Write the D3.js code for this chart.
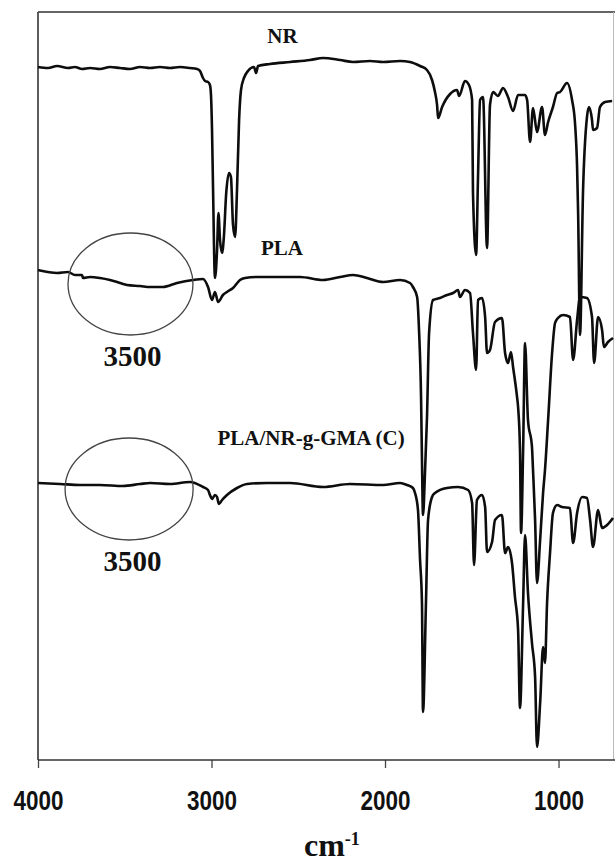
<!DOCTYPE html>
<html>
<head>
<meta charset="utf-8">
<script src="https://cdn.jsdelivr.net/npm/d3@7"></script>
<style>
  body { margin: 0; background: #fff; }
  .lbl { font-family: "Liberation Serif", "Times New Roman", serif; font-weight: bold; fill: #111; }
</style>
</head>
<body>
<svg id="chart" width="615" height="864"></svg>
<script>
// wavenumber (cm-1), transmittance (arbitrary, offset per trace)
var nrData = [
  [4000,138.6],[3942,138.4],[3890,138.8],[3827,138.4],[3787,138.6],[3746,138.2],[3700,138.4],
  [3643,138.2],[3585,138.6],[3527,138.4],[3470,138.2],[3412,138.6],[3354,138.4],[3297,138.6],
  [3239,138.4],[3182,138.6],[3124,138.4],[3083,138.2],[3066,137.8],[3049,136.4],[3037,135.8],
  [3020,135.6],[3009,135],[3003,133],[2997,126],[2991,114],[2980,96.4],[2968,102],[2960,109.4],
  [2951,104],[2939,101.4],[2928,105],[2916,113],[2899,117.4],[2888,116.6],[2876,107],[2864,104.6],
  [2853,114],[2841,128],[2830,134],[2813,136.4],[2790,137.8],[2755,138.6],[2743,137.4],[2732,138.8],
  [2663,139.2],[2547,139.6],[2432,140],[2357,140.4],[2259,140],[2184,139.6],[2086,139.8],[2011,139.6],
  [1913,139.8],[1856,139.6],[1798,138.8],[1758,138],[1729,136],[1712,133.6],[1700,131],[1694,128.4],
  [1671,130.6],[1625,133.2],[1585,134],[1573,132.8],[1539,135.8],[1516,135],[1498,132],[1493,113.4],
  [1475,101],[1464,116.6],[1452,132],[1435,132.6],[1412,102.4],[1395,131],[1377,133.6],[1349,132.8],
  [1320,134.4],[1291,132.6],[1262,129.8],[1233,133],[1193,133],[1181,132],[1164,123.6],[1147,130.4],
  [1124,125.6],[1095,130.6],[1078,125],[1060,127.6],[1032,130.6],[1008,133.4],[991,133.6],[951,135.4],
  [922,132],[905,127.4],[893,118.6],[887,109.4],[876,85],[859,113.4],[836,128.6],[824,130.6],
  [807,128],[801,126],[778,126.4],[761,130.6],[732,131.6],[691,131.8]
];

var plaData = [
  [4000,98],[3942,97.6],[3890,97.4],[3827,97.6],[3787,97],[3746,97],[3741,96.4],[3700,96.6],
  [3643,96.4],[3585,96],[3527,95.4],[3487,95],[3412,94.8],[3354,94.6],[3280,94.6],[3199,95.4],
  [3107,96],[3049,96.2],[3020,94.6],[2997,92],[2980,93.6],[2962,91.6],[2934,93],[2911,93.6],
  [2876,94.4],[2836,96],[2807,96.4],[2738,96.6],[2547,96.6],[2490,96.6],[2357,96],[2259,96.6],
  [2184,97],[2104,96.4],[2011,95.6],[1913,96],[1856,95.4],[1839,94.6],[1815,92.6],[1804,86],
  [1792,72],[1787,60],[1781,49],[1769,58],[1758,68.6],[1746,85.4],[1723,92],[1683,92.4],[1643,93],
  [1608,93.4],[1579,94],[1568,92.6],[1539,94],[1510,93.4],[1493,85.4],[1475,78],[1464,92],
  [1441,92.4],[1423,88.6],[1412,81.4],[1395,82],[1366,87.6],[1326,88.4],[1308,81.4],[1291,79.4],
  [1274,81.6],[1262,78.6],[1239,72.6],[1233,70.6],[1222,62],[1216,45.4],[1204,62],[1193,83.4],
  [1176,68],[1153,62.6],[1147,58],[1135,48],[1124,35.4],[1106,44],[1089,53.4],[1078,58],[1060,68],
  [1037,81.4],[1020,87.4],[1003,88.4],[974,89],[934,88.6],[916,80],[893,88],[876,92.6],[836,92.4],
  [807,88.6],[795,79.4],[772,88.6],[749,86],[738,82.6],[715,83.6],[686,84.4]
];

var blendData = [
  [4000,55.4],[3873,55.2],[3758,55],[3643,55],[3510,54.8],[3412,55.2],[3354,55.4],[3239,55.2],
  [3124,55.6],[3049,54.6],[3020,54],[3009,53],[2997,52.2],[2980,53],[2968,52.6],[2957,51.2],
  [2939,52],[2911,53],[2853,54.4],[2795,55.2],[2680,55.4],[2547,55.4],[2357,54.6],[2202,55.2],
  [2011,55],[1913,55.4],[1873,55],[1839,54.4],[1827,53.4],[1810,50],[1798,40],[1787,31.4],
  [1781,9.6],[1764,31.4],[1752,48],[1729,52.6],[1712,53.4],[1643,54.4],[1579,54.6],[1521,54],
  [1498,51.4],[1487,39],[1470,52],[1441,53],[1423,50.6],[1412,41.6],[1383,43.6],[1366,48],
  [1326,49],[1308,41.4],[1291,42.6],[1268,39.4],[1251,32.6],[1233,26],[1222,10.4],[1204,31.4],
  [1193,45],[1176,33.4],[1153,23.4],[1135,16.6],[1124,2.6],[1106,11.4],[1089,22.6],[1078,19.4],
  [1066,31.4],[1049,41.4],[1032,49.4],[1008,51],[980,50.6],[934,50.4],[916,43.4],[893,49.4],
  [864,52.6],[836,52.4],[818,48],[801,42.6],[772,50],[749,46.4],[720,47],[686,48.4]
];

var tickValues = [4000, 3000, 2000, 1000];

// trace names and where they sit (wavenumber, transmittance)
var traceLabels = [
  {text: "NR", wn: 2591, t: 143.4},
  {text: "PLA", wn: 2594, t: 101},
  {text: "PLA/NR-g-GMA (C)", wn: 2426, t: 63}
];

// circled 3500 cm-1 regions
var circles = [
  {wn: 3467, t: 95.2, rwn: 360, rt: 10.2, label: "3500", labelT: 78.8},
  {wn: 3475, t: 54.2, rwn: 369, rt: 10.2, label: "3500", labelT: 37.8}
];

var svg = d3.select("#chart");
var plotLeft = 38, plotRight = 613, plotTop = 12, plotBottom = 760;

var x = d3.scaleLinear().domain([4000, 686]).range([plotLeft, plotRight]);
var y = d3.scaleLinear().domain([0, 149.6]).range([plotBottom, plotTop]);

// frame
svg.append("line").attr("x1", plotLeft).attr("x2", 615).attr("y1", plotTop).attr("y2", plotTop)
  .attr("stroke", "#333").attr("stroke-width", 1.6);
svg.append("line").attr("x1", plotLeft).attr("x2", plotLeft).attr("y1", plotTop).attr("y2", plotBottom)
  .attr("stroke", "#333").attr("stroke-width", 1.6);
svg.append("line").attr("x1", plotRight + 0.5).attr("x2", plotRight + 0.5).attr("y1", plotTop).attr("y2", plotBottom)
  .attr("stroke", "#bbb").attr("stroke-width", 1);

// x axis
var xAxis = svg.append("g")
  .attr("transform", "translate(0," + plotBottom + ")")
  .call(d3.axisBottom(x).tickValues(tickValues).tickSize(8).tickFormat(d3.format("d")));
xAxis.select(".domain").remove();
svg.append("line").attr("x1", plotLeft).attr("x2", 615).attr("y1", plotBottom).attr("y2", plotBottom)
  .attr("stroke", "#333").attr("stroke-width", 1.6);
xAxis.selectAll(".tick line").attr("stroke", "#444").attr("stroke-width", 1.3);
xAxis.selectAll(".tick text")
  .attr("y", 50).attr("dy", 0)
  .attr("fill", "#111")
  .attr("textLength", 50).attr("lengthAdjust", "spacingAndGlyphs")
  .style("font-family", "'Liberation Sans', Arial, sans-serif")
  .style("font-weight", "bold")
  .style("font-size", "27px");

// axis title
var title = svg.append("text").attr("class", "lbl")
  .attr("x", 304).attr("y", 856).style("font-size", "32px");
title.append("tspan").text("cm");
title.append("tspan").attr("dy", -11).style("font-size", "18px").text("-1");

// spectra
var line = d3.line()
  .x(function(d) { return x(d[0]); })
  .y(function(d) { return y(d[1]); })
  .curve(d3.curveMonotoneX);

[nrData, plaData, blendData].forEach(function(s) {
  svg.append("path")
    .datum(s)
    .attr("d", line)
    .attr("fill", "none")
    .attr("stroke", "#0d0d0d")
    .attr("stroke-width", 2.6)
    .attr("stroke-linejoin", "round");
});

// ellipses + 3500 labels
circles.forEach(function(c) {
  svg.append("ellipse")
    .attr("cx", x(c.wn))
    .attr("cy", y(c.t))
    .attr("rx", x(c.wn - c.rwn) - x(c.wn))
    .attr("ry", y(c.t - c.rt) - y(c.t))
    .attr("fill", "none")
    .attr("stroke", "#444")
    .attr("stroke-width", 1.3);
  svg.append("text").attr("class", "lbl")
    .attr("x", x(3455)).attr("y", y(c.labelT))
    .attr("text-anchor", "middle")
    .style("font-size", "29px")
    .text(c.label);
});

svg.selectAll(".trace-label")
  .data(traceLabels)
  .enter().append("text")
  .attr("class", "lbl trace-label")
  .attr("x", function(d) { return x(d.wn); })
  .attr("y", function(d) { return y(d.t); })
  .attr("text-anchor", "middle")
  .style("font-size", "21px")
  .text(function(d) { return d.text; });
</script>
</body>
</html>
